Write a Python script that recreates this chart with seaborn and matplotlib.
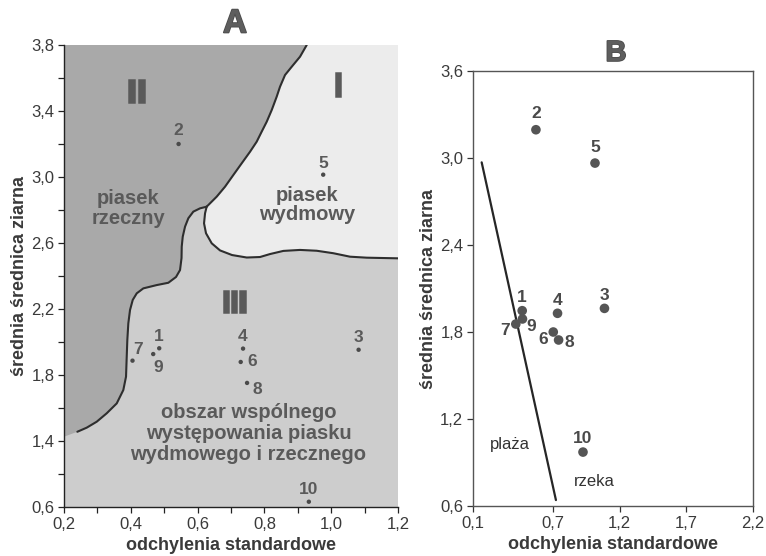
import matplotlib
matplotlib.use("Agg")
import matplotlib.pyplot as plt
import matplotlib.patheffects as pe
import seaborn as sns
import pandas as pd
from matplotlib import font_manager as fm

# ---------------- data ----------------
# Panel A (sample points)
a_ids = ["1", "2", "3", "4", "5", "6", "7", "8", "9", "10"]
a_sd = [0.485, 0.543, 1.082, 0.736, 0.976, 0.729, 0.405, 0.748, 0.467, 0.933]
a_mean = [1.962, 3.200, 1.953, 1.960, 3.014, 1.879, 1.887, 1.752, 1.927, 1.032]

# Panel B (sample points)
b_ids = ["1", "2", "3", "4", "5", "6", "7", "8", "9", "10"]
b_sd = [0.469, 0.572, 1.086, 0.734, 1.015, 0.702, 0.421, 0.742, 0.471, 0.925]
b_mean = [1.947, 3.195, 1.963, 1.929, 2.965, 1.800, 1.855, 1.745, 1.890, 0.972]

# Panel B dividing line (plaża / rzeka)
b_line_x = [0.165, 0.722]
b_line_y = [2.97, 0.641]

# Panel A region boundaries (traced)
curve_top_x = [0.9267, 0.9066, 0.8817, 0.8617, 0.8467, 0.8368, 0.8219, 0.8069, 0.7919,
               0.7769, 0.7569, 0.7320, 0.7069, 0.6820, 0.6572, 0.6320, 0.627]
curve_top_y = [3.800, 3.729, 3.668, 3.618, 3.547, 3.487, 3.406, 3.335, 3.275,
               3.214, 3.153, 3.083, 3.012, 2.941, 2.881, 2.830, 2.820]
curve_river_x = [0.627, 0.6072, 0.5871, 0.5722, 0.5623, 0.5554, 0.5524, 0.5518, 0.5473,
                 0.5353, 0.5123, 0.4775, 0.4374, 0.4177, 0.4057, 0.3976, 0.3925, 0.3895,
                 0.3877, 0.3856, 0.3775, 0.3578, 0.3278, 0.2979, 0.2680, 0.2398]
curve_river_y = [2.820, 2.810, 2.790, 2.750, 2.699, 2.638, 2.578, 2.509, 2.436,
                 2.394, 2.359, 2.345, 2.325, 2.295, 2.255, 2.194, 2.113, 2.012,
                 1.911, 1.790, 1.709, 1.628, 1.568, 1.517, 1.481, 1.456]
river_edge_y = 1.426
curve_dune_x = [0.627, 0.6222, 0.6192, 0.6251, 0.6422, 0.6671, 0.7030, 0.7470, 0.7868,
                0.8168, 0.8566, 0.9066, 0.9566, 1.0063, 1.0563, 1.1063, 1.2009]
curve_dune_y = [2.820, 2.780, 2.719, 2.659, 2.598, 2.555, 2.527, 2.512, 2.515,
                2.533, 2.552, 2.558, 2.553, 2.538, 2.517, 2.511, 2.507]

# axis ticks / labels
a_xticks = [0.2, 0.4, 0.6, 0.8, 1.0, 1.2]
a_xticklabels = ["0,2", "0,4", "0,6", "0,8", "1,0", "1,2"]
a_xminor = [0.3, 0.5, 0.7, 0.9, 1.1]
a_yticks = [1.0, 1.4, 1.8, 2.2, 2.6, 3.0, 3.4, 3.8]
a_yticklabels = ["0,6", "1,4", "1,8", "2,2", "2,6", "3,0", "3,4", "3,8"]
a_yminor = [1.2, 1.6, 2.0, 2.4, 2.8, 3.2, 3.6]
b_xticks = [0.1, 0.7, 1.2, 1.7, 2.2]
b_xticklabels = ["0,1", "0,7", "1,2", "1,7", "2,2"]
b_yticks = [0.6, 1.2, 1.8, 2.4, 3.0, 3.6]
b_yticklabels = ["0,6", "1,2", "1,8", "2,4", "3,0", "3,6"]

# label offsets (pixels) for point numbers
a_offsets = {"1": (0, 12), "2": (0, 13), "3": (0, 12), "4": (0, 12), "5": (0, 11),
             "6": (11, 0), "7": (6, 11), "8": (10, -7), "9": (5, -13), "10": (0, 12)}
b_offsets = {"1": (0, 13), "2": (0, 16), "3": (0, 13), "4": (0, 13), "5": (0, 16),
             "6": (-10, -7), "7": (-11, -6), "8": (11, -3), "9": (9, -8), "10": (0, 14)}

XLABEL = "odchylenia standardowe"
YLABEL = "średnia średnica ziarna"

# ---------------- styling ----------------
sns.set_theme(style="ticks")
plt.rcParams["font.family"] = ["Liberation Sans", "DejaVu Sans"]

_names = {f.name for f in fm.fontManager.ttflist}
if "Liberation Sans Narrow" in _names:
    NUM_FONT = dict(family=["Liberation Sans Narrow", "Liberation Sans"], fontsize=13.5)
else:
    NUM_FONT = dict(family=["Liberation Sans", "DejaVu Sans"], fontsize=12.5)

C_DARK = "#a9a9a9"
C_MID = "#cdcdcd"
C_LIGHT = "#ececec"
C_TXT = "#5a5a5a"
C_TICK = "#3a3a3a"

fig = plt.figure(figsize=(7.66, 5.56), dpi=100)
fig.patch.set_facecolor("white")
axA = fig.add_axes([0.0836, 0.0881, 0.436, 0.831])
axB = fig.add_axes([0.6175, 0.0899, 0.3655, 0.7824])

# ---------------- panel A ----------------
axA.set_xlim(0.2, 1.2)
axA.set_ylim(1.0, 3.8)
axA.set_facecolor(C_MID)

# dark region II (river sand)
dark_x = [0.2] + curve_top_x + curve_river_x[1:] + [0.2]
dark_y = [3.8] + curve_top_y + curve_river_y[1:] + [river_edge_y]
axA.fill(dark_x, dark_y, color=C_DARK, lw=0, zorder=1)
# light region I (dune sand)
light_x = curve_top_x + curve_dune_x[1:] + [1.2]
light_y = curve_top_y + curve_dune_y[1:] + [3.8]
axA.fill(light_x, light_y, color=C_LIGHT, lw=0, zorder=1)

for cx, cy in [(curve_top_x, curve_top_y), (curve_river_x, curve_river_y),
               (curve_dune_x, curve_dune_y)]:
    axA.plot(cx, cy, color="#2e2e2e", lw=1.5, solid_joinstyle="round",
             solid_capstyle="round", zorder=2)

dfA = pd.DataFrame({"sd": a_sd, "mean": a_mean, "id": a_ids})
sns.scatterplot(data=dfA, x="sd", y="mean", ax=axA, s=10, color="#4a4a4a",
                edgecolor="none", zorder=3, legend=False)
for i, xv, yv in zip(a_ids, a_sd, a_mean):
    dx, dy = a_offsets[i]
    axA.annotate(i, (xv, yv), xytext=(dx, dy), textcoords="offset pixels",
                 ha="center", va="center", fontweight="bold",
                 color=C_TXT, zorder=4, **NUM_FONT)

region_fx = [pe.Stroke(linewidth=1.8, foreground=C_TXT, joinstyle="miter"), pe.Normal()]
axA.text(0.417, 3.503, "II", ha="center", va="center", fontsize=24,
         fontweight="bold", color=C_TXT, path_effects=region_fx)
axA.text(1.02, 3.54, "I", ha="center", va="center", fontsize=24,
         fontweight="bold", color=C_TXT, path_effects=region_fx)
axA.text(0.709, 2.232, "III", ha="center", va="center", fontsize=22,
         fontweight="bold", color=C_TXT, path_effects=region_fx)
axA.text(0.392, 2.81, "piasek\nrzeczny", ha="center", va="center", fontsize=14.5,
         fontweight="bold", color=C_TXT, linespacing=1.05)
axA.text(0.927, 2.83, "piasek\nwydmowy", ha="center", va="center", fontsize=14.5,
         fontweight="bold", color=C_TXT, linespacing=1.05)
axA.text(0.752, 1.447, "obszar wspólnego\nwystępowania piasku\nwydmowego i rzecznego",
         ha="center", va="center", fontsize=14.5, fontweight="bold", color=C_TXT,
         linespacing=1.12)

axA.set_xticks(a_xticks)
axA.set_xticklabels(a_xticklabels)
axA.set_xticks(a_xminor, minor=True)
axA.set_yticks(a_yticks)
axA.set_yticklabels(a_yticklabels)
axA.set_yticks(a_yminor, minor=True)
for sp in ["top", "right"]:
    axA.spines[sp].set_visible(False)
for sp in ["left", "bottom"]:
    axA.spines[sp].set_color("#222222")
    axA.spines[sp].set_linewidth(1.0)
axA.tick_params(which="both", direction="out", length=4, width=0.9, color="#222222",
                labelsize=12, labelcolor=C_TICK, pad=3)
axA.set_xlabel(XLABEL, fontsize=13, fontweight="bold", color="#3a3a3a", labelpad=4)
axA.set_ylabel(YLABEL, fontsize=13, fontweight="bold", color="#3a3a3a", labelpad=2)

# ---------------- panel B ----------------
axB.set_xlim(0.1, 2.2)
axB.set_ylim(0.6, 3.6)
axB.set_facecolor("white")
lineB = pd.DataFrame({"x": b_line_x, "y": b_line_y})
sns.lineplot(data=lineB, x="x", y="y", ax=axB, color="#262626", lw=1.6,
             sort=False, estimator=None, zorder=2)
dfB = pd.DataFrame({"sd": b_sd, "mean": b_mean, "id": b_ids})
sns.scatterplot(data=dfB, x="sd", y="mean", ax=axB, s=48, color="#555555",
                edgecolor="none", zorder=3, legend=False)
for i, xv, yv in zip(b_ids, b_sd, b_mean):
    dx, dy = b_offsets[i]
    axB.annotate(i, (xv, yv), xytext=(dx, dy), textcoords="offset pixels",
                 ha="center", va="center", fontweight="bold",
                 color="#4a4a4a", zorder=4, **NUM_FONT)
axB.text(0.375, 1.021, "plaża", ha="center", va="center", fontsize=12,
         color="#333333")
axB.text(1.008, 0.768, "rzeka", ha="center", va="center", fontsize=12,
         color="#333333")

axB.set_xticks(b_xticks)
axB.set_xticklabels(b_xticklabels)
axB.set_yticks(b_yticks)
axB.set_yticklabels(b_yticklabels)
for sp in axB.spines.values():
    sp.set_color("#555555")
    sp.set_linewidth(1.0)
    sp.set_visible(True)
axB.tick_params(which="both", direction="out", length=4, width=0.9, color="#333333",
                labelsize=12, labelcolor=C_TICK, pad=3)
axB.set_xlabel(XLABEL, fontsize=13, fontweight="bold", color="#3a3a3a", labelpad=4)
axB.set_ylabel(YLABEL, fontsize=13, fontweight="bold", color="#3a3a3a", labelpad=2)

# ---------------- panel titles ----------------
title_fx = [pe.Stroke(linewidth=1.2, foreground="#4a4a4a"), pe.Normal()]
fig.text(0.3068, 0.9568, "A", ha="center", va="center", fontsize=24,
         fontweight="bold", color="#5e5e5e", path_effects=title_fx)
fig.text(0.8042, 0.9047, "B", ha="center", va="center", fontsize=21,
         fontweight="bold", color="#5e5e5e", path_effects=title_fx)

fig.savefig("out.png", dpi=100)
